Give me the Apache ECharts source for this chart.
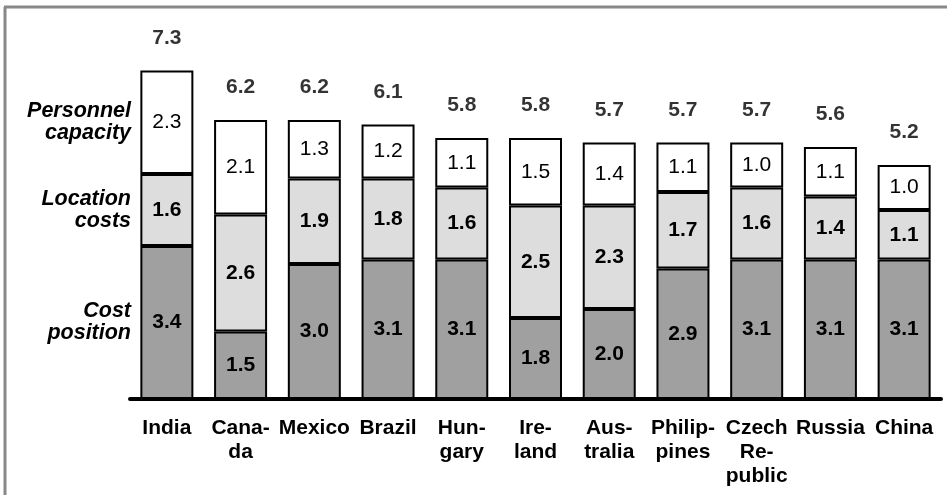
<!DOCTYPE html>
<html>
<head>
<meta charset="utf-8">
<script src="https://cdn.jsdelivr.net/npm/echarts@6/dist/echarts.min.js"></script>
<style>
  html, body { margin: 0; padding: 0; background: #fff; }
  #chart { width: 947px; height: 495px; }
</style>
</head>
<body>
<div id="chart"></div>
<script>
// Country scores, stacked from the bottom up
const categories = ['India', 'Cana-\nda', 'Mexico', 'Brazil', 'Hun-\ngary', 'Ire-\nland',
  'Aus-\ntralia', 'Philip-\npines', 'Czech\nRe-\npublic', 'Russia', 'China'];
const costPosition = [3.4, 1.5, 3.0, 3.1, 3.1, 1.8, 2.0, 2.9, 3.1, 3.1, 3.1];
const locationCosts = [1.6, 2.6, 1.9, 1.8, 1.6, 2.5, 2.3, 1.7, 1.6, 1.4, 1.1];
const personnelCapacity = [2.3, 2.1, 1.3, 1.2, 1.1, 1.5, 1.4, 1.1, 1.0, 1.1, 1.0];
const totals = [7.3, 6.2, 6.2, 6.1, 5.8, 5.8, 5.7, 5.7, 5.7, 5.6, 5.2];
const segmentNames = ['Personnel\ncapacity', 'Location\ncosts', 'Cost\nposition'];

const FONT = '"Liberation Sans", Arial, sans-serif';

const chart = echarts.init(document.getElementById('chart'), null, { renderer: 'canvas' });

function segment(name, data, color, weight) {
  return {
    name: name,
    type: 'bar',
    stack: 'score',
    barWidth: 53,
    data: data,
    itemStyle: { color: color, borderColor: '#000', borderWidth: 2 },
    label: {
      show: true,
      position: 'inside',
      color: '#000',
      fontFamily: FONT,
      fontSize: 21,
      fontWeight: weight,
      formatter: p => p.value.toFixed(1)
    },
    emphasis: { disabled: true },
    silent: true
  };
}

chart.setOption({
  animation: false,
  backgroundColor: '#fff',
  grid: { left: 130, right: 6, top: 39, bottom: 96 },
  xAxis: {
    type: 'category',
    data: categories,
    axisTick: { show: false },
    axisLine: { show: true, lineStyle: { color: '#000', width: 4 } },
    axisLabel: {
      interval: 0,
      margin: 17,
      color: '#000',
      fontFamily: FONT,
      fontSize: 21,
      fontWeight: 'bold',
      lineHeight: 24
    }
  },
  yAxis: {
    type: 'value',
    min: 0,
    max: 8,
    show: false
  },
  series: [
    segment('Cost position', costPosition, '#a0a0a0', 'bold'),
    segment('Location costs', locationCosts, '#dddddd', 'bold'),
    segment('Personnel capacity', personnelCapacity, '#ffffff', 'normal'),
    {
      name: 'Total',
      type: 'scatter',
      data: totals,
      symbolSize: 0,
      silent: true,
      label: {
        show: true,
        position: 'top',
        distance: 22,
        color: '#000',
        fontFamily: FONT,
        fontSize: 21,
        fontWeight: 'bold',
        formatter: p => p.value.toFixed(1)
      }
    }
  ]
});

// Segment captions sit beside the first bar, at the middle of each of its segments
const mids = [
  costPosition[0] + locationCosts[0] + personnelCapacity[0] / 2,
  costPosition[0] + locationCosts[0] / 2,
  costPosition[0] / 2
];
const captionGraphics = segmentNames.map((txt, i) => {
  const pt = chart.convertToPixel({ gridIndex: 0 }, [0, mids[i]]);
  return {
    type: 'text',
    silent: true,
    style: {
      text: txt,
      x: 131,
      y: pt[1],
      align: 'right',
      verticalAlign: 'middle',
      fill: '#000',
      font: 'italic bold 21.5px ' + FONT,
      lineHeight: 22
    }
  };
});

chart.setOption({
  graphic: [
    ...captionGraphics,
    // frame: top and left rules
    { type: 'line', silent: true, shape: { x1: 4, y1: 7, x2: 947, y2: 7 }, style: { stroke: '#888', lineWidth: 3 } },
    { type: 'line', silent: true, shape: { x1: 5, y1: 7, x2: 5, y2: 495 }, style: { stroke: '#888', lineWidth: 3 } }
  ]
});
</script>
</body>
</html>
